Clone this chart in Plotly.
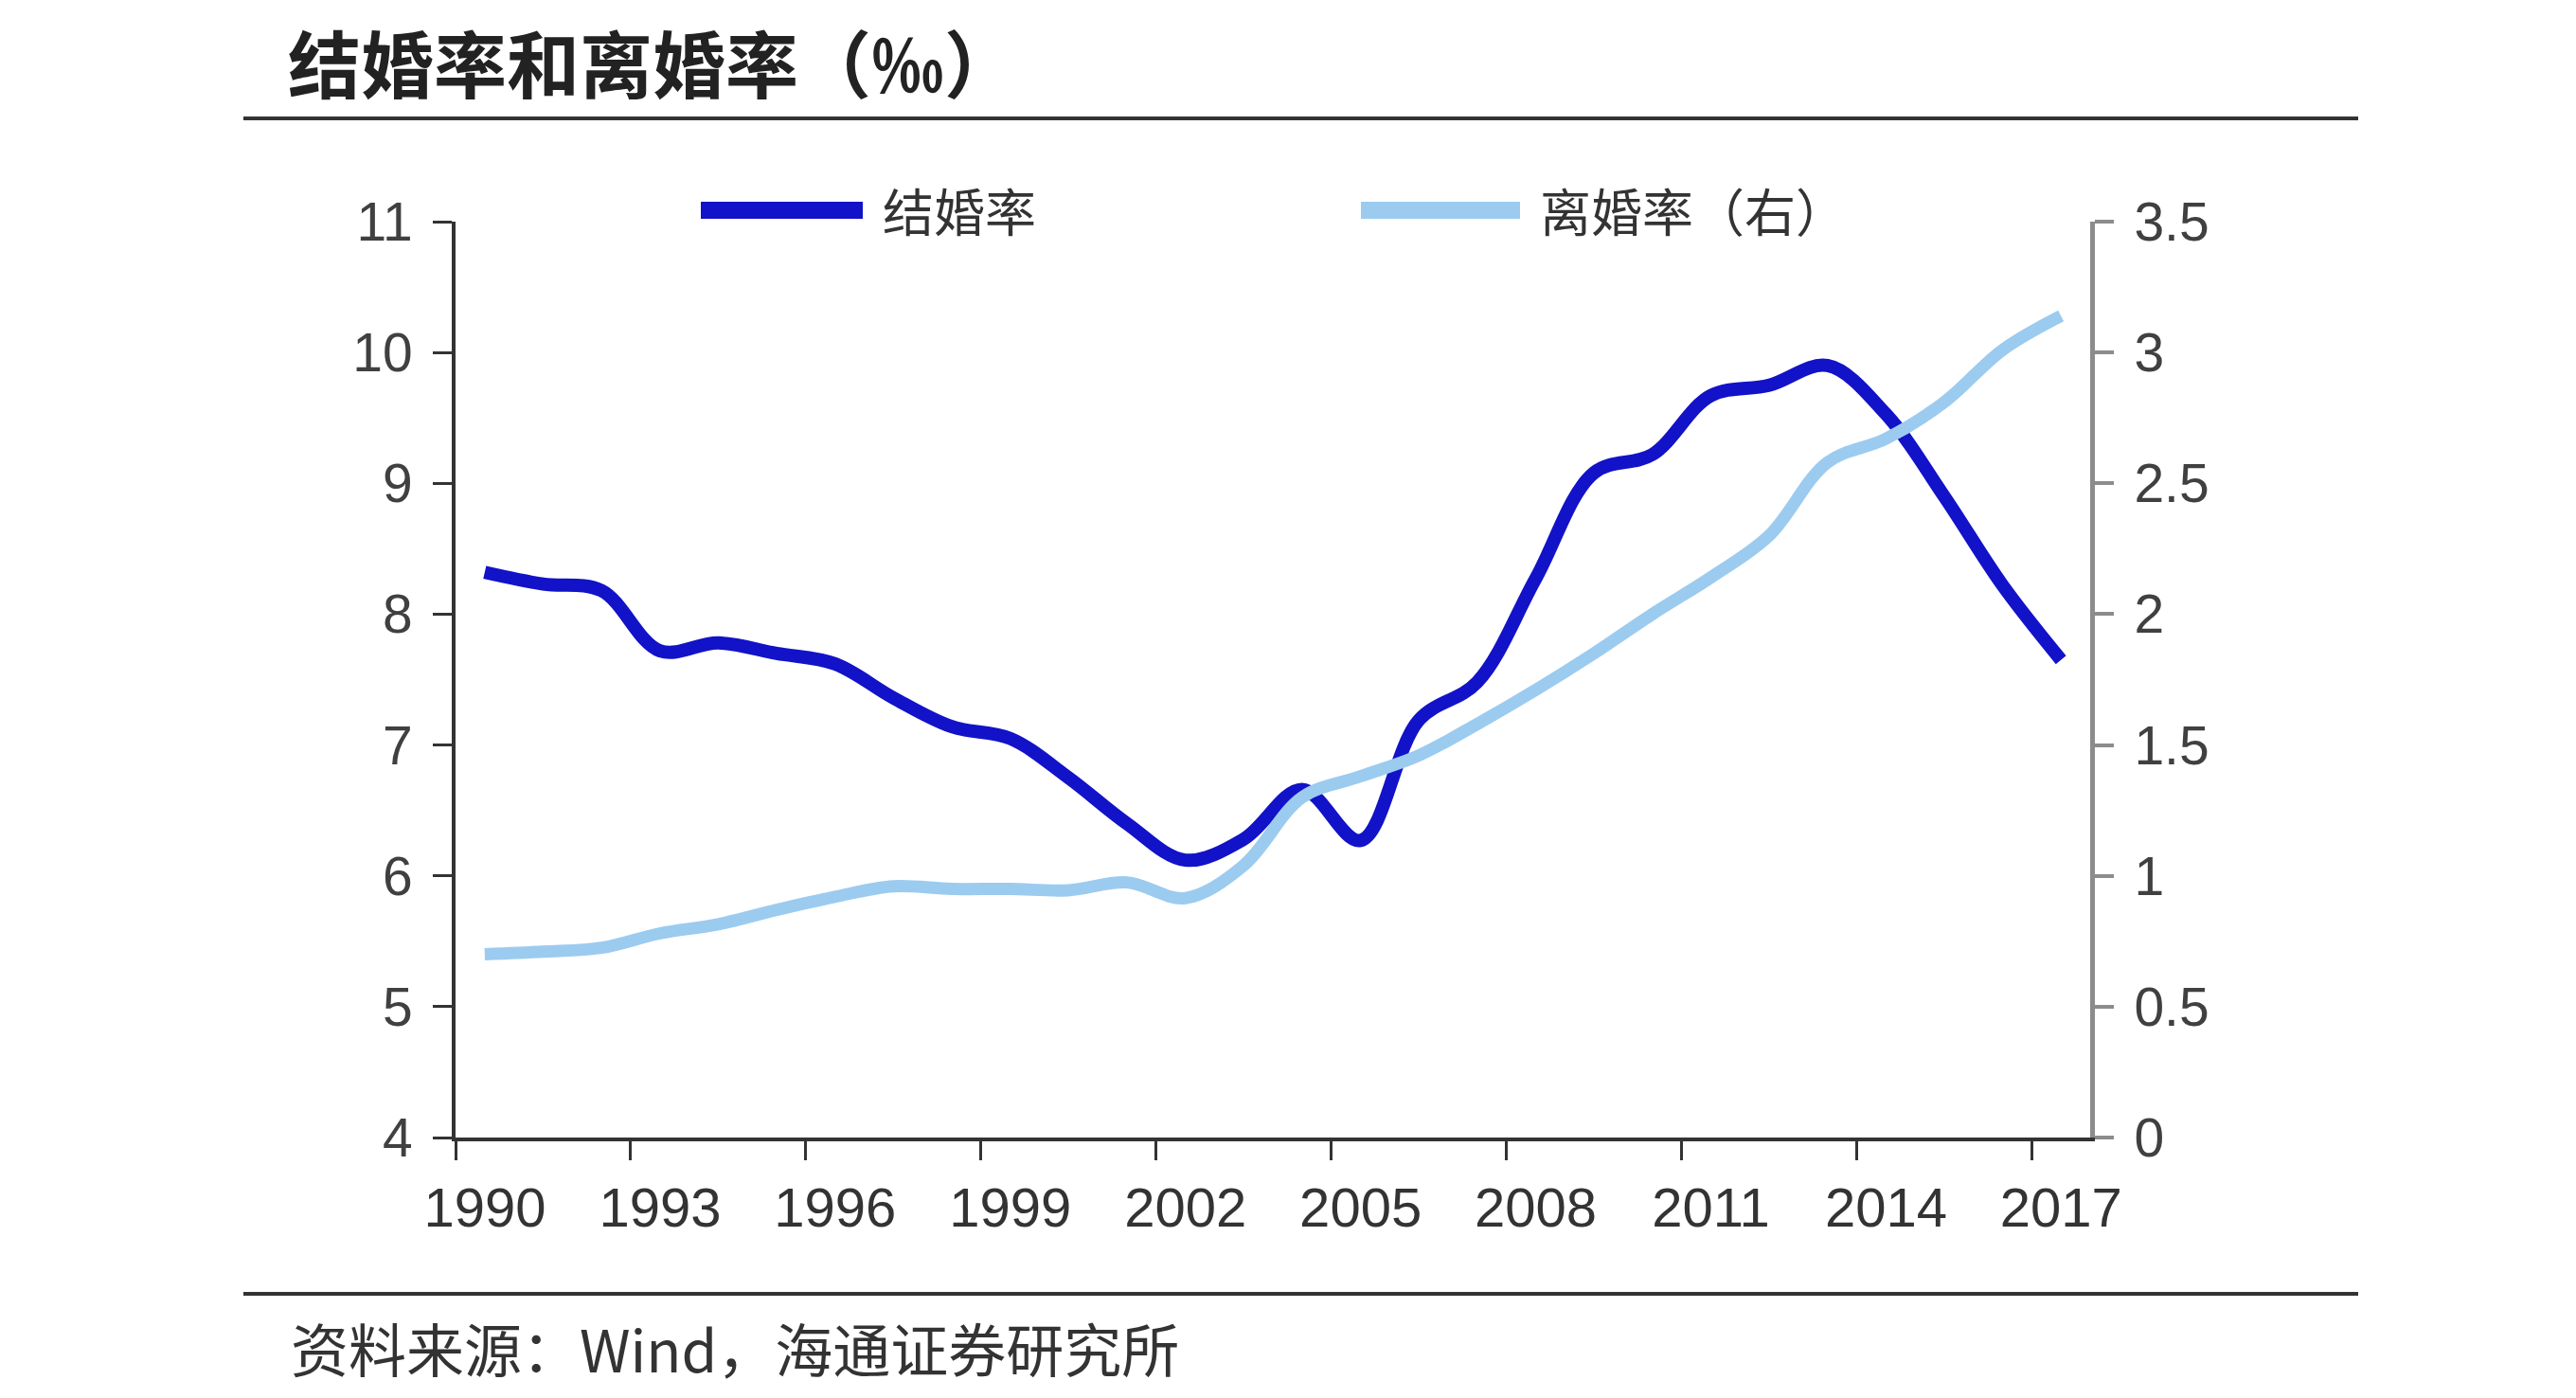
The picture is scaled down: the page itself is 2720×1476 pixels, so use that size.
import plotly.graph_objects as go

# ---- data ----
years = list(range(1990, 2018))
marriage_rate = [8.32, 8.23, 8.18, 7.72, 7.78, 7.70, 7.62, 7.36, 7.14, 7.05,
                 6.75, 6.40, 6.12, 6.28, 6.66, 6.27, 7.19, 7.48, 8.27, 9.08,
                 9.22, 9.67, 9.75, 9.90, 9.53, 8.90, 8.22, 7.65]
divorce_rate = [0.70, 0.71, 0.725, 0.78, 0.815, 0.87, 0.92, 0.96, 0.95, 0.95,
                0.945, 0.975, 0.915, 1.04, 1.30, 1.38, 1.46, 1.58, 1.71, 1.85,
                2.00, 2.14, 2.30, 2.58, 2.67, 2.81, 3.01, 3.14]
label_years = [1990, 1993, 1996, 1999, 2002, 2005, 2008, 2011, 2014, 2017]
left_ticks = [4, 5, 6, 7, 8, 9, 10, 11]
right_ticks = [0, 0.5, 1, 1.5, 2, 2.5, 3, 3.5]
right_tick_text = ["0", "0.5", "1", "1.5", "2", "2.5", "3", "3.5"]

title_text = "结婚率和离婚率（‰）"
source_text = "资料来源：Wind，海通证券研究所"
name_marriage = "结婚率"
name_divorce = "离婚率（右）"

DARK_BLUE = "#1212C8"
LIGHT_BLUE = "#9CCBF0"
CJK = "Noto Sans CJK SC"
LATIN = "Liberation Sans, Arial"

# page has an 8px body margin; figure coords = page coords - OFF
OFF = 8
W, H = 2704, 1460
L, T = 481 - OFF, 234 - OFF
R = W - (2207 - OFF)
B = H - (1201 - OFF)
pw, ph = W - L - R, H - T - B


def px_x(x_page):
    return (x_page - OFF - L) / pw


def px_y(y_page):
    return (H - B - (y_page - OFF)) / ph


fig = go.Figure()
fig.add_trace(go.Scatter(
    x=years, y=marriage_rate, name=name_marriage, mode="lines",
    line=dict(color=DARK_BLUE, width=14, shape="spline", smoothing=1.0),
    yaxis="y", showlegend=False))
fig.add_trace(go.Scatter(
    x=years, y=divorce_rate, name=name_divorce, mode="lines",
    line=dict(color=LIGHT_BLUE, width=13, shape="spline", smoothing=1.0),
    yaxis="y2", showlegend=False))

x_tickvals = [y - 0.5 for y in label_years]
year_px = pw / (years[-1] - years[0] + 1)

fig.update_layout(
    width=W, height=H,
    margin=dict(l=L, r=R, t=T, b=B, autoexpand=False),
    paper_bgcolor="white", plot_bgcolor="white",
    xaxis=dict(
        range=[years[0] - 0.5, years[-1] + 0.5],
        tickvals=x_tickvals, ticktext=[str(y) for y in label_years],
        ticklabelshift=int(round(year_px / 2)),
        ticks="outside", ticklen=20, tickwidth=3, tickcolor="#333333",
        showline=True, linecolor="#333333", linewidth=4,
        showgrid=False, zeroline=False,
        tickfont=dict(family=LATIN, size=58, color="#333333"),
        ticklabelstandoff=0,
    ),
    yaxis=dict(
        range=[4, 11], tickvals=left_ticks,
        ticks="outside", ticklen=20, tickwidth=3, tickcolor="#333333",
        showline=True, linecolor="#333333", linewidth=4,
        showgrid=False, zeroline=False,
        tickfont=dict(family=LATIN, size=57, color="#404040"),
        ticklabelstandoff=10,
    ),
    yaxis2=dict(
        range=[0, 3.5], tickvals=right_ticks, ticktext=right_tick_text,
        overlaying="y", side="right",
        ticks="outside", ticklen=20, tickwidth=4, tickcolor="#8c8c8c",
        showline=True, linecolor="#8c8c8c", linewidth=5,
        showgrid=False, zeroline=False,
        tickfont=dict(family=LATIN, size=57, color="#404040"),
        ticklabelstandoff=10,
    ),
)

# header / footer rules
for ypx in (125, 1366):
    fig.add_shape(type="line", xref="paper", yref="paper",
                  x0=px_x(257), x1=px_x(2490), y0=px_y(ypx), y1=px_y(ypx),
                  line=dict(color="#333333", width=4))

fig.add_annotation(text=title_text, xref="paper", yref="paper",
                   x=px_x(302), y=px_y(64), xanchor="left", yanchor="middle",
                   showarrow=False,
                   font=dict(family=CJK, size=77, color="#222222", weight="bold"))
fig.add_annotation(text=source_text, xref="paper", yref="paper",
                   x=px_x(305), y=px_y(1422), xanchor="left", yanchor="middle",
                   showarrow=False,
                   font=dict(family=CJK, size=61, color="#333333"))

# legend (drawn manually to match long line samples)
legend_items = [(name_marriage, DARK_BLUE, 740, 911, 930),
                (name_divorce, LIGHT_BLUE, 1437, 1605, 1624)]
for name, color, x0, x1, tx in legend_items:
    fig.add_shape(type="line", xref="paper", yref="paper",
                  x0=px_x(x0), x1=px_x(x1), y0=px_y(222), y1=px_y(222),
                  line=dict(color=color, width=18))
    fig.add_annotation(text=name, xref="paper", yref="paper",
                       x=px_x(tx), y=px_y(222), xanchor="left", yanchor="middle",
                       showarrow=False,
                       font=dict(family=CJK, size=54, color="#333333"))

fig.write_html("out.html")
